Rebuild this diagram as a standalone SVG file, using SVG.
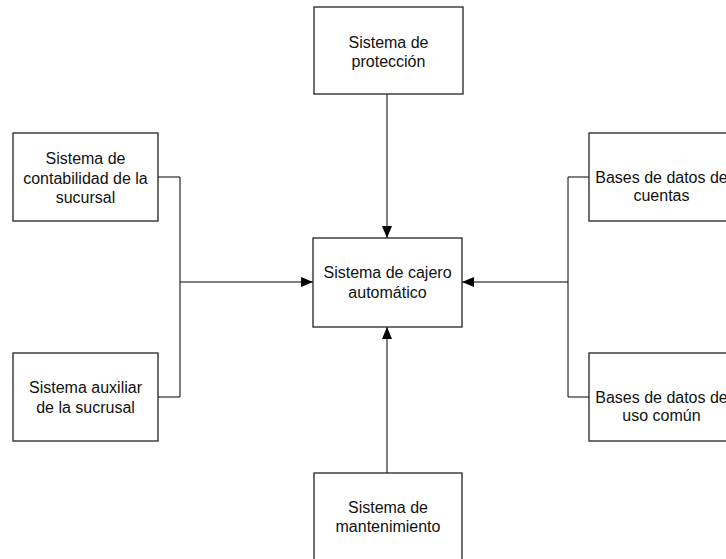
<svg xmlns="http://www.w3.org/2000/svg" width="726" height="559" viewBox="0 0 726 559">
  <style>
    .box { fill: #ffffff; stroke: #222222; stroke-width: 1.3; }
    .lbl { font-family: "Liberation Sans", Arial, sans-serif; font-size: 16px; fill: #111111; text-anchor: middle; }
    .wire { fill: none; stroke: #000000; stroke-width: 1; }
  </style>
  <defs>
    <marker id="arrow" markerUnits="userSpaceOnUse" markerWidth="12" markerHeight="10" refX="12" refY="5" orient="auto">
      <path d="M0,0 L12,5 L0,10 Z" fill="#000000"/>
    </marker>
  </defs>
  <rect width="726" height="559" fill="#ffffff"/>

  <g id="connectors">
    <!-- protection -> ATM -->
    <path class="wire" d="M387,94 V238" marker-end="url(#arrow)"/>
    <!-- maintenance -> ATM -->
    <path class="wire" d="M387,473 V327" marker-end="url(#arrow)"/>
    <!-- branch systems bus -> ATM -->
    <path class="wire" d="M158,177 H180 V397 H158"/>
    <path class="wire" d="M180,282 H313" marker-end="url(#arrow)"/>
    <!-- databases bus -> ATM -->
    <path class="wire" d="M589,177 H568 V397 H589"/>
    <path class="wire" d="M568,282 H462" marker-end="url(#arrow)"/>
  </g>

  <g id="proteccion">
    <rect class="box" x="314" y="7" width="149" height="87"/>
    <text class="lbl" x="388.5" y="48">Sistema de</text>
    <text class="lbl" x="388.5" y="67">protección</text>
  </g>

  <g id="contabilidad">
    <rect class="box" x="13" y="133" width="145" height="88"/>
    <text class="lbl" x="85.5" y="164">Sistema de</text>
    <text class="lbl" x="85.5" y="184">contabilidad de la</text>
    <text class="lbl" x="85.5" y="203">sucursal</text>
  </g>

  <g id="auxiliar">
    <rect class="box" x="13" y="353" width="145" height="88"/>
    <text class="lbl" x="85.5" y="393">Sistema auxiliar</text>
    <text class="lbl" x="85.5" y="413">de la sucrusal</text>
  </g>

  <g id="cajero">
    <rect class="box" x="313" y="238" width="149" height="89"/>
    <text class="lbl" x="387.5" y="278">Sistema de cajero</text>
    <text class="lbl" x="387.5" y="298">automático</text>
  </g>

  <g id="cuentas">
    <rect class="box" x="589" y="133" width="145" height="88"/>
    <text class="lbl" x="661.5" y="183">Bases de datos de</text>
    <text class="lbl" x="661.5" y="201">cuentas</text>
  </g>

  <g id="uso-comun">
    <rect class="box" x="589" y="353" width="145" height="88"/>
    <text class="lbl" x="661.5" y="403">Bases de datos de</text>
    <text class="lbl" x="661.5" y="421">uso común</text>
  </g>

  <g id="mantenimiento">
    <rect class="box" x="314" y="473" width="148" height="95"/>
    <text class="lbl" x="388" y="513">Sistema de</text>
    <text class="lbl" x="388" y="532">mantenimiento</text>
  </g>
</svg>
